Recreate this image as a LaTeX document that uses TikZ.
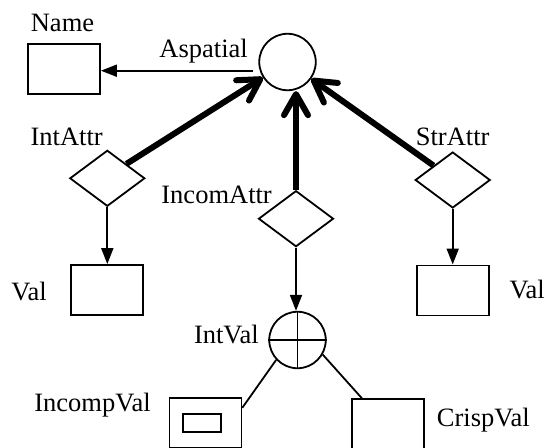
\documentclass[tikz,border=0pt]{standalone}
\usepackage{fontspec}
\setmainfont{Liberation Serif}
\usetikzlibrary{arrows.meta,shapes.geometric}
\begin{document}
\begin{tikzpicture}[x=1pt,y=-1pt,
  entity/.style={draw,line width=1.8pt,rectangle,minimum width=72pt,minimum height=50pt,inner sep=0pt},
  rel/.style={draw,line width=1.8pt,diamond,minimum width=75pt,minimum height=56pt,inner sep=0pt},
  obj/.style={draw,line width=1.8pt,circle,minimum size=56.5pt,inner sep=0pt},
  lbl/.style={inner sep=0pt,font=\fontsize{26.5}{30}\selectfont},
  link/.style={line width=1.8pt,-{Triangle[length=16pt,width=12pt]}},
  heavy/.style={line width=6pt,-{Straight Barb[length=21pt,width=24pt,round]}},
  plain/.style={line width=1.8pt}
]
\useasboundingbox (0,0) rectangle (546,447);
\clip (0,0) rectangle (546,447);

% aspatial object and its name
\node[obj] (asp) at (287.5,62) {};
\node[lbl,anchor=base east] (aspL) at (248,57) {Aspatial};
\node[entity] (name) at (64,69) {};
\node[lbl,anchor=base] (nameL) at (62.5,31) {Name};

% attribute relations
\node[rel] (intattr) at (107.3,178.3) {};
\node[lbl,anchor=base] (intattrL) at (66.7,145) {IntAttr};
\node[rel] (incom) at (296,218.7) {};
\node[lbl,anchor=base east] (incomL) at (272,203.3) {IncomAttr};
\node[rel] (strattr) at (452.7,180) {};
\node[lbl,anchor=base] (strattrL) at (452.7,145.7) {StrAttr};

% value domains
\node[entity] (val1) at (107.3,290) {};
\node[lbl,anchor=base] (val1L) at (29,300) {Val};
\node[entity] (val2) at (452.7,290.4) {};
\node[lbl,anchor=base west] (val2L) at (509.3,298) {Val};

% interval value with its two variants
\node[obj] (intval) at (297.5,340) {};
\draw[line width=1.8pt] (intval.north) -- (intval.south) (intval.west) -- (intval.east);
\node[lbl,anchor=base east] (intvalL) at (259,343) {IntVal};
\node[entity] (incomp) at (205.4,422.7) {};
\node[draw,line width=1.8pt,minimum width=38pt,minimum height=18pt,inner sep=0pt] (slot) at (202.3,423) {};
\node[lbl,anchor=base] (incompL) at (92.5,411) {IncompVal};
\node[entity] (crisp) at (388.3,424.3) {};
\node[lbl,anchor=base west] (crispL) at (436.7,426.7) {CrispVal};

% connectors
\coordinate (aspw) at (253,70.7);
\draw[link] (aspw) -- (aspw -| name.east);
\draw[heavy] (intattr.north east) -- (asp);
\draw[heavy] (incom.north) -- (incom.north |- asp.south);
\draw[heavy] (strattr.north west) -- (asp);
\draw[link] (intattr.south) -- (val1.north);
\draw[link] (strattr.south) -- (val2.north);
\draw[link] (incom.south) -- (incom.south |- intval.north);
\draw[plain] (intval.-137) -- ([yshift=-11pt]incomp.north east);
\draw[plain] (intval.-30) -- ([xshift=10.6pt]crisp.north west);
\end{tikzpicture}
\end{document}
